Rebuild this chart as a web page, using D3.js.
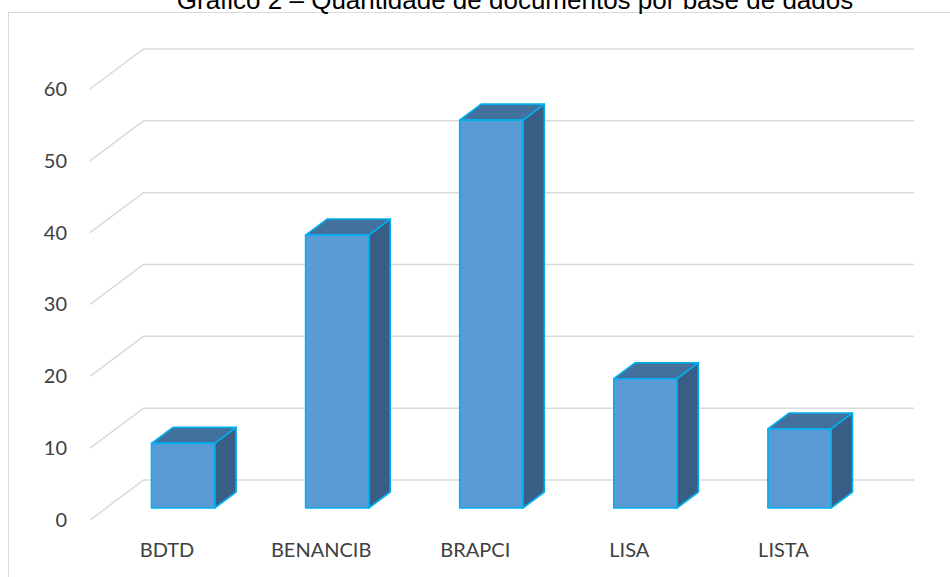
<!DOCTYPE html>
<html>
<head>
<meta charset="utf-8">
<script src="https://cdn.jsdelivr.net/npm/d3@7"></script>
<style>
  body { margin: 0; background: #fff; }
  svg { display: block; }
</style>
</head>
<body>
<div id="chart"></div>
<script>
const title = "Gráfico 2 – Quantidade de documentos por base de dados"
const categories = ["BDTD", "BENANCIB", "BRAPCI", "LISA", "LISTA"]
const values = [9, 38, 54, 18, 11]
const yTicks = [0, 10, 20, 30, 40, 50, 60]

const width = 950
const height = 577
// depth of the 3d floor (front -> back wall)
const depth = { dx: 53.5, dy: -40 }
const barFront = 0.3, barBack = 0.7

var svg = d3.select("#chart").append("svg").attr("width", width).attr("height", height)

// chart frame
svg.append("rect")
  .attr("x", 8.5).attr("y", 12.5)
  .attr("width", 960).attr("height", 600)
  .attr("fill", "none").attr("stroke", "#d9d9d9")

// title sits partly above the page edge, as in the source
svg.append("text")
  .attr("x", 515).attr("y", 9)
  .attr("text-anchor", "middle")
  .attr("font-family", "Liberation Sans, Arial, sans-serif")
  .attr("font-size", 26)
  .attr("fill", "#000")
  .text(title)

// x scale on the front plane, y scale on the back wall
var xScale = d3.scaleBand().domain(categories).range([90, 914 - depth.dx])
var yBack = d3.scaleLinear().domain([0, 60]).range([480, 49])
var yFront = d3.scaleLinear().domain([0, 60]).range([480 - depth.dy, 49 - depth.dy])

function pt(x, v, f) {
  return [x + depth.dx * f, yBack(v) - depth.dy * (1 - f)]
}

// gridlines: floor diagonal + back wall line
svg.append("g")
  .selectAll("path")
  .data(yTicks)
  .enter()
  .append("path")
  .attr("fill", "none")
  .attr("stroke", "#d9d9d9")
  .attr("stroke-width", 1.5)
  .attr("d", function(d) {
    return d3.line()([pt(90, d, 0), pt(90, d, 1), [914, yBack(d)]])
  })

const labelFont = "Lato, 'Open Sans', sans-serif"

var yAxis = svg.append("g")
  .attr("transform", "translate(75,0)")
  .call(d3.axisLeft(yFront).tickValues(yTicks).tickSize(0).tickPadding(8))
yAxis.select(".domain").remove()
yAxis.selectAll("text")
  .attr("font-family", labelFont).attr("font-size", 20).attr("fill", "#404040")

var xAxis = svg.append("g")
  .attr("transform", "translate(0," + yFront(0) + ")")
  .call(d3.axisBottom(xScale).tickSize(0).tickPadding(23))
xAxis.select(".domain").remove()
xAxis.selectAll("text")
  .attr("font-family", labelFont).attr("font-size", 20).attr("fill", "#404040")

// 3d bars
const barW = xScale.bandwidth() * 0.41
var bars = svg.append("g")
  .selectAll("g")
  .data(categories.map(function(c, i) { return { c: c, v: values[i] } }))
  .enter()
  .append("g")
  .attr("stroke", "#00b0f0")
  .attr("stroke-width", 1.6)
  .attr("stroke-linejoin", "round")

function poly(d, pts) {
  return d3.line()(pts) + "Z"
}

bars.append("path")
  .attr("fill", "#385e86")
  .attr("d", function(d) {
    var x1 = xScale(d.c) + xScale.bandwidth() / 2 + barW / 2
    return poly(d, [pt(x1, d.v, barFront), pt(x1, d.v, barBack), pt(x1, 0, barBack), pt(x1, 0, barFront)])
  })

bars.append("path")
  .attr("fill", "#41719c")
  .attr("d", function(d) {
    var x0 = xScale(d.c) + xScale.bandwidth() / 2 - barW / 2
    var x1 = x0 + barW
    return poly(d, [pt(x0, d.v, barFront), pt(x1, d.v, barFront), pt(x1, d.v, barBack), pt(x0, d.v, barBack)])
  })

bars.append("path")
  .attr("fill", "#5b9bd5")
  .attr("d", function(d) {
    var x0 = xScale(d.c) + xScale.bandwidth() / 2 - barW / 2
    var x1 = x0 + barW
    return poly(d, [pt(x0, d.v, barFront), pt(x1, d.v, barFront), pt(x1, 0, barFront), pt(x0, 0, barFront)])
  })
</script>
</body>
</html>
